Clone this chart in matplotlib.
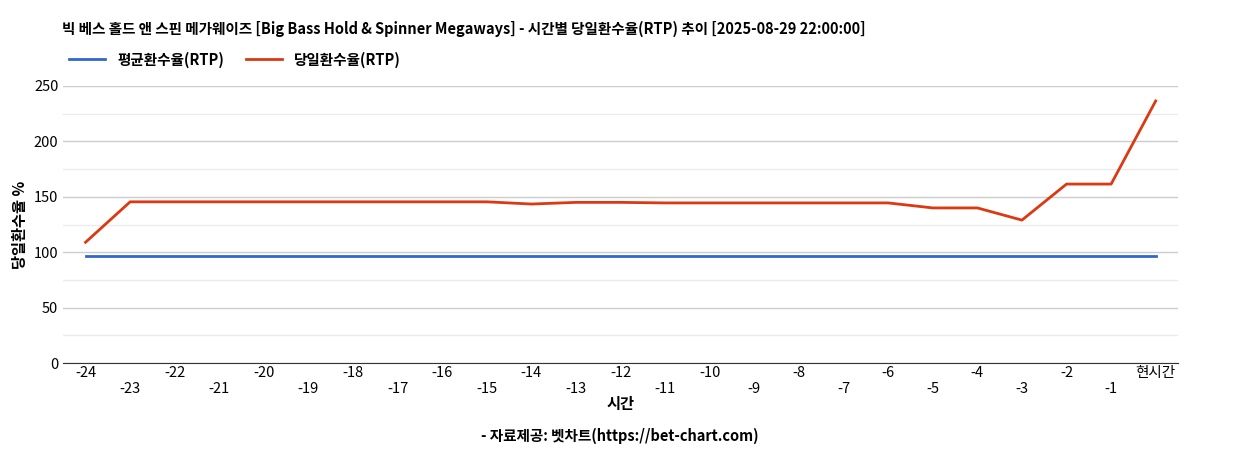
import matplotlib
matplotlib.use("Agg")
import matplotlib.pyplot as plt
from matplotlib import font_manager as fm

cands = [f.name for f in fm.fontManager.ttflist if "CJK" in f.name]
pref = [n for n in cands if "KR" in n] or cands
fam = pref[0] if pref else "DejaVu Sans"
if not cands:
    import glob
    for p in glob.glob("/usr/share/fonts/**/*CJK*", recursive=True):
        try:
            fm.fontManager.addfont(p)
        except Exception:
            pass
    cands = [f.name for f in fm.fontManager.ttflist if "CJK" in f.name]
    pref = [n for n in cands if "KR" in n] or cands
    fam = pref[0] if pref else "DejaVu Sans"
plt.rcParams["font.family"] = [fam, "DejaVu Sans"]

labels = [str(i) for i in range(-24, 0)] + ["현시간"]
avg_rtp = [96.5] * 25
daily_rtp = [109, 145.5, 145.5, 145.5, 145.5, 145.5, 145.5, 145.5, 145.5, 145.5,
             143.5, 145, 145, 144.5, 144.5, 144.5, 144.5, 144.5, 144.5, 140, 140,
             129, 161.5, 161.5, 236.5]

fig = plt.figure(figsize=(12.4, 4.5), dpi=100)
ax = fig.add_axes([0.051, 0.193, 0.899, 0.616])
x = list(range(len(labels)))
ax.plot(x, avg_rtp, color="#3366cc", lw=2, label="평균환수율(RTP)")
ax.plot(x, daily_rtp, color="#dc3912", lw=2, label="당일환수율(RTP)")
ax.set_xlim(-0.5, len(labels) - 0.5)
ax.set_ylim(0, 250)
ax.set_yticks([0, 50, 100, 150, 200, 250])
ax.set_yticks([25, 75, 125, 175, 225], minor=True)
ax.grid(axis="y", which="major", color="#cccccc", lw=1)
ax.grid(axis="y", which="minor", color="#ebebeb", lw=1)
ax.set_axisbelow(True)
ax.set_xticks(x)
ax.set_xticklabels([l if i % 2 == 0 else "\n" + l for i, l in enumerate(labels)])
ax.tick_params(axis="x", length=0, labelsize=10.5, pad=2)
ax.tick_params(axis="y", which="both", length=0, labelsize=10.5)
for s in ["top", "right", "left"]:
    ax.spines[s].set_visible(False)
ax.spines["bottom"].set_color("#333333")
ax.set_xlabel("시간", fontsize=11, fontweight="bold", labelpad=0)
ax.set_ylabel("당일환수율 %", fontsize=11, fontweight="bold")
fig.text(0.05, 0.925, "빅 베스 홀드 앤 스핀 메가웨이즈 [Big Bass Hold & Spinner Megaways] - 시간별 당일환수율(RTP) 추이 [2025-08-29 22:00:00]",
         fontsize=10.5, fontweight="bold")
fig.legend(loc="upper left", bbox_to_anchor=(0.045, 0.915), ncol=2, frameon=False,
           handlelength=2.5, columnspacing=1.5, prop={"family": [fam], "weight": "bold", "size": 10.5})
fig.text(0.5, 0.02, "- 자료제공: 벳차트(https://bet-chart.com)", ha="center", fontsize=10.5, fontweight="bold")
fig.savefig("out.png")
